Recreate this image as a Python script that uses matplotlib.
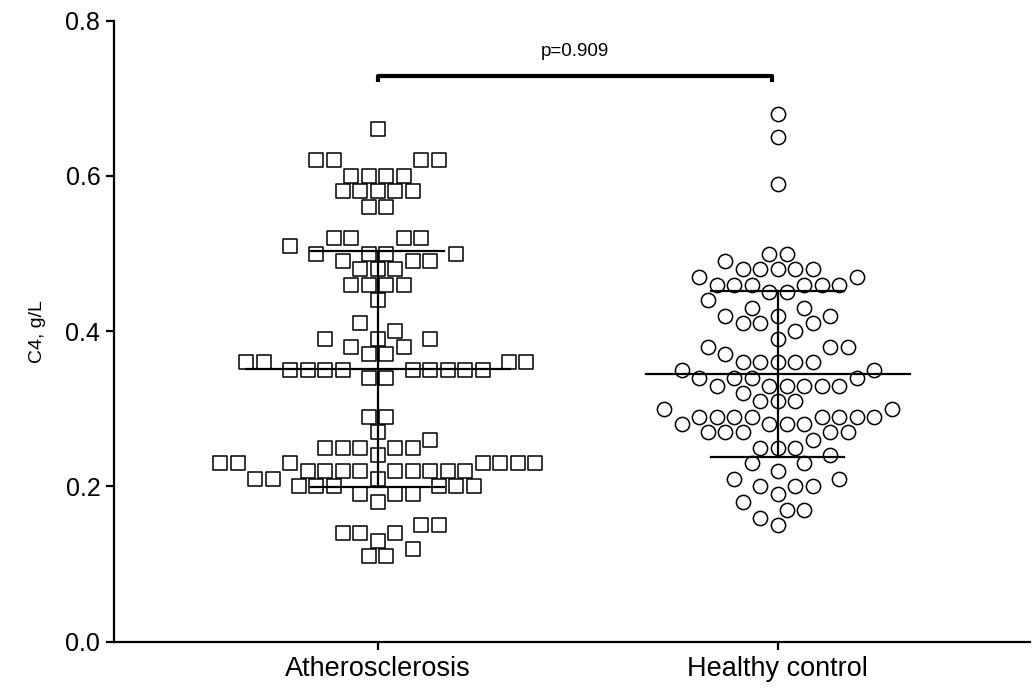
import numpy as np
import matplotlib
matplotlib.use("Agg")
from matplotlib import pyplot as plt
from matplotlib.ticker import FormatStrFormatter

plt.rcParams['font.family'] = ['Liberation Sans', 'DejaVu Sans']

groups = ["Atherosclerosis", "Healthy control"]

# C4 values: level -> number of dots at that level
athero_levels = [0.66, 0.62, 0.60, 0.58, 0.56, 0.52, 0.51, 0.50, 0.49, 0.48, 0.46, 0.44,
                 0.41, 0.40, 0.39, 0.38, 0.37, 0.36, 0.35, 0.34, 0.29, 0.27, 0.26, 0.25,
                 0.24, 0.23, 0.22, 0.21, 0.20, 0.19, 0.18, 0.15, 0.14, 0.13, 0.12, 0.11]
athero_counts = [1, 4, 4, 5, 2, 4, 1, 4, 3, 3, 4, 1,
                 1, 1, 3, 2, 2, 4, 9, 2, 2, 1, 1, 5,
                 1, 7, 9, 3, 6, 3, 1, 2, 3, 1, 1, 2]

healthy_levels = [0.68, 0.65, 0.59, 0.50, 0.49, 0.48, 0.47, 0.46, 0.45, 0.44, 0.43, 0.42,
                  0.41, 0.40, 0.39, 0.38, 0.37, 0.36, 0.35, 0.34, 0.33, 0.32, 0.31, 0.30,
                  0.29, 0.28, 0.27, 0.26, 0.25, 0.24, 0.23, 0.22, 0.21, 0.20, 0.19, 0.18,
                  0.17, 0.16, 0.15]
healthy_counts = [1, 1, 1, 2, 1, 5, 2, 6, 2, 1, 2, 3,
                  3, 1, 1, 3, 1, 5, 2, 4, 6, 1, 3, 2,
                  8, 4, 5, 1, 3, 1, 2, 1, 2, 3, 1, 1,
                  2, 1, 1]

# mean and SD as drawn
means = [0.351, 0.345]
sds = [0.152, 0.1066]
p_text = "p=0.909"


def row_swarm(levels, counts, slot, d, sx, sy):
    """Prism-like scatter: rows placed bottom-up on a half-slot grid,
    each dot takes the free spot nearest the centre line."""
    xs, ys = [], []
    placed = []
    flip = 1
    for lev, n in sorted(zip(levels, counts)):
        y = lev * sy
        phase = 0.0 if n % 2 else 0.5
        ks = np.arange(-25, 26) + phase
        for _ in range(n):
            cand = sorted(ks, key=lambda k: (abs(k), -flip * k))
            for k in cand:
                x = k * slot
                if all((x - px) ** 2 + (y - py) ** 2 >= d ** 2 for px, py in placed):
                    break
            placed.append((x, y))
            xs.append(x / sx)
            ys.append(lev)
            flip = -flip
    return np.array(xs), np.array(ys)


fig = plt.figure(figsize=(10.33, 6.88), dpi=100)
ax = fig.add_axes([113.5 / 1033, (688 - 641.7) / 688, (1030 - 113.5) / 1033, (641.7 - 20.7) / 688])

xmin, xmax = -0.66, 1.63
ymin, ymax = 0.0, 0.8
ax.set_xlim(xmin, xmax)
ax.set_ylim(ymin, ymax)

ax_w = fig.get_figwidth() * fig.dpi * ax.get_position().width
ax_h = fig.get_figheight() * fig.dpi * ax.get_position().height
sx = ax_w / (xmax - xmin)
sy = ax_h / (ymax - ymin)

off_a, val_a = row_swarm(athero_levels, athero_counts, 17.5, 16.0, sx, sy)
off_h, val_h = row_swarm(healthy_levels, healthy_counts, 17.5, 16.0, sx, sy)

ax.scatter(0 + off_a, val_a, marker="s", s=88, facecolors="white",
           edgecolors="black", linewidths=1.1, zorder=3)
ax.scatter(1 + off_h, val_h, marker="o", s=105, facecolors="white",
           edgecolors="black", linewidths=1.1, zorder=3)

# mean line and SD whiskers
for xc, m, s in zip([0, 1], means, sds):
    ax.plot([xc - 0.33, xc + 0.33], [m, m], color="black", lw=1.6, zorder=4)
    ax.plot([xc, xc], [m - s, m + s], color="black", lw=1.6, zorder=4)
    for yy in (m - s, m + s):
        ax.plot([xc - 0.166, xc + 0.166], [yy, yy], color="black", lw=1.6, zorder=4)

# significance bracket
yb = 0.7286
ax.plot([0, 0, 0.985, 0.985], [yb - 0.008, yb, yb, yb - 0.008], color="black",
        lw=3, solid_capstyle="butt", zorder=4)
ax.text(0.4925, 0.7545, p_text, ha="center", va="baseline", fontsize=13.5)

ax.spines["top"].set_visible(False)
ax.spines["right"].set_visible(False)
for sp in ("left", "bottom"):
    ax.spines[sp].set_linewidth(1.6)

ax.set_xticks([0, 1])
ax.set_xticklabels(groups, fontsize=19.5)
ax.set_yticks([0.0, 0.2, 0.4, 0.6, 0.8])
ax.yaxis.set_major_formatter(FormatStrFormatter("%.1f"))
ax.tick_params(axis="y", labelsize=18, length=6, width=1.6, direction="out")
ax.tick_params(axis="x", length=6, width=1.6, direction="out", pad=4)
ax.set_ylabel("C4, g/L", fontsize=14, labelpad=14)

fig.savefig("out.png", dpi=100)
